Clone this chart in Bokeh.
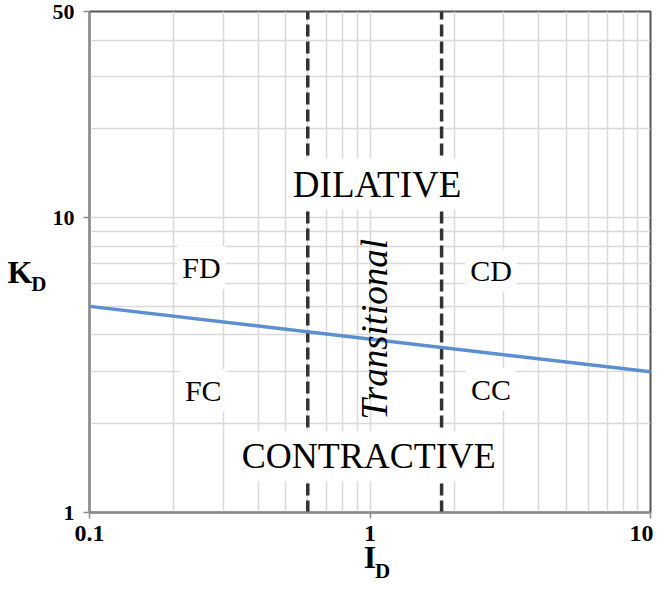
from bokeh.plotting import figure
from bokeh.models import Range1d, FixedTicker, Label, ColumnDataSource, LinearAxis
from bokeh.embed import file_html
from bokeh.resources import INLINE
import math

# ---- data ----
id_line = [0.1, 10.0]          # I_D
kd_line = [5.0, 3.0]           # K_D boundary line
transition_bounds = [0.6, 1.8]  # dashed vertical boundaries (I_D)
x_major = [0.1, 1, 10]
x_minor = [0.2, 0.3, 0.4, 0.5, 0.6, 0.7, 0.8, 0.9, 2, 3, 4, 5, 6, 7, 8, 9]
y_major = [1, 10, 50]
y_minor = [2, 3, 4, 5, 6, 7, 8, 9, 20, 30, 40]
x_tick_labels = {0.1: "0.1", 1: "1", 10: "10"}
y_tick_labels = {1: "1", 10: "10", 50: "50"}

SERIF = "Liberation Serif"

p = figure(width=653, height=585, x_axis_type="log", y_axis_type="log",
           x_range=Range1d(0.1, 10), y_range=Range1d(1, 50),
           output_backend="svg", toolbar_location=None,
           min_border_left=89, min_border_right=3,
           min_border_top=11, min_border_bottom=60)
p.background_fill_color = "white"
p.border_fill_color = "white"
p.outline_line_color = "#555555"
p.outline_line_width = 2

for ax, maj, mnr, labs in ((p.xaxis[0], x_major, x_minor, x_tick_labels),
                           (p.yaxis[0], y_major, y_minor, y_tick_labels)):
    ax.ticker = FixedTicker(ticks=maj, minor_ticks=mnr)
    ax.major_label_overrides = labs
    ax.major_label_text_font = SERIF
    ax.major_label_text_font_style = "bold"
    ax.major_label_text_color = "black"
    ax.axis_line_color = "#8c8c8c"
    ax.axis_line_width = 2
    ax.major_tick_line_color = "#8c8c8c"
    ax.major_tick_line_width = 1.5
    ax.major_tick_out = 6
    ax.major_tick_in = 0
    ax.minor_tick_line_color = None
    ax.axis_label_text_font = SERIF
    ax.axis_label_text_font_style = "bold"
    ax.axis_label_text_color = "black"
p.xaxis.major_label_text_font_size = "24px"
p.yaxis.major_label_text_font_size = "22px"
p.xaxis.major_label_standoff = 7
p.yaxis.major_label_standoff = 9

# y title: K with subscript D (subscript on the inner axis, K on an outer one)
p.yaxis.axis_label = "\nD"
p.yaxis.axis_label_orientation = "horizontal"
p.yaxis.axis_label_text_font_size = "21px"
p.yaxis.axis_label_text_line_height = 1.8
p.yaxis.axis_label_standoff = 3

ky = LinearAxis(ticker=FixedTicker(ticks=[]), axis_line_color=None,
                major_tick_line_color=None, minor_tick_line_color=None,
                major_label_text_font_size="0px",
                axis_label="\nK", axis_label_orientation="horizontal",
                axis_label_text_font=SERIF, axis_label_text_font_style="bold",
                axis_label_text_font_size="32px", axis_label_text_color="black",
                axis_label_text_line_height=0.55, axis_label_standoff=-4)
p.add_layout(ky, "left")

# x title: I with subscript D
p.xaxis.axis_label = "I"
p.xaxis.axis_label_text_font_size = "32px"
p.xaxis.axis_label_standoff = -5

dx = LinearAxis(ticker=FixedTicker(ticks=[]), axis_line_color=None,
                major_tick_line_color=None, minor_tick_line_color=None,
                major_label_text_font_size="0px",
                axis_label="\u2003\u2009D",
                axis_label_text_font=SERIF, axis_label_text_font_style="bold",
                axis_label_text_font_size="21px", axis_label_text_color="black",
                axis_label_standoff=-19)
p.add_layout(dx, "below")

for g in (p.xgrid[0], p.ygrid[0]):
    g.grid_line_color = "#d9d9d9"
    g.grid_line_width = 1.5
    g.minor_grid_line_color = "#d9d9d9"
    g.minor_grid_line_width = 1.5
p.xgrid.ticker = FixedTicker(ticks=x_major, minor_ticks=x_minor)
p.ygrid.ticker = FixedTicker(ticks=y_major, minor_ticks=y_minor)

# dashed boundaries
dsrc = ColumnDataSource(dict(x=transition_bounds,
                             y0=[1] * len(transition_bounds),
                             y1=[50] * len(transition_bounds)))
p.segment(x0="x", y0="y0", x1="x", y1="y1", source=dsrc,
          line_color="#333333", line_width=3.5, line_dash="12 5")

# boundary line
p.line(id_line, kd_line, line_color="#5b8fd0", line_width=3.5)

def lab(text, x, y, size, style="normal", bg=True, angle=0.0):
    l = Label(x=x, y=y, text=text, text_font=SERIF, text_font_size=size,
              text_font_style=style, text_color="black", text_align="center",
              text_baseline="middle", angle=angle)
    if bg:
        l.background_fill_color = "white"
        l.padding = 5
    p.add_layout(l)

lab("DILATIVE", 1.06, 13.0, "37px")
lab("CONTRACTIVE", 0.99, 1.55, "36px")
lab("Transitional", 1.04, 4.18, "37px", style="italic", bg=False, angle=math.pi / 2)
lab("FD", 0.2505, 6.78, "30px")
lab("CD", 2.70, 6.62, "30px")
lab("FC", 0.2544, 2.60, "30px")
lab("CC", 2.70, 2.62, "30px")

open("out.html", "w").write(file_html(p, INLINE))
